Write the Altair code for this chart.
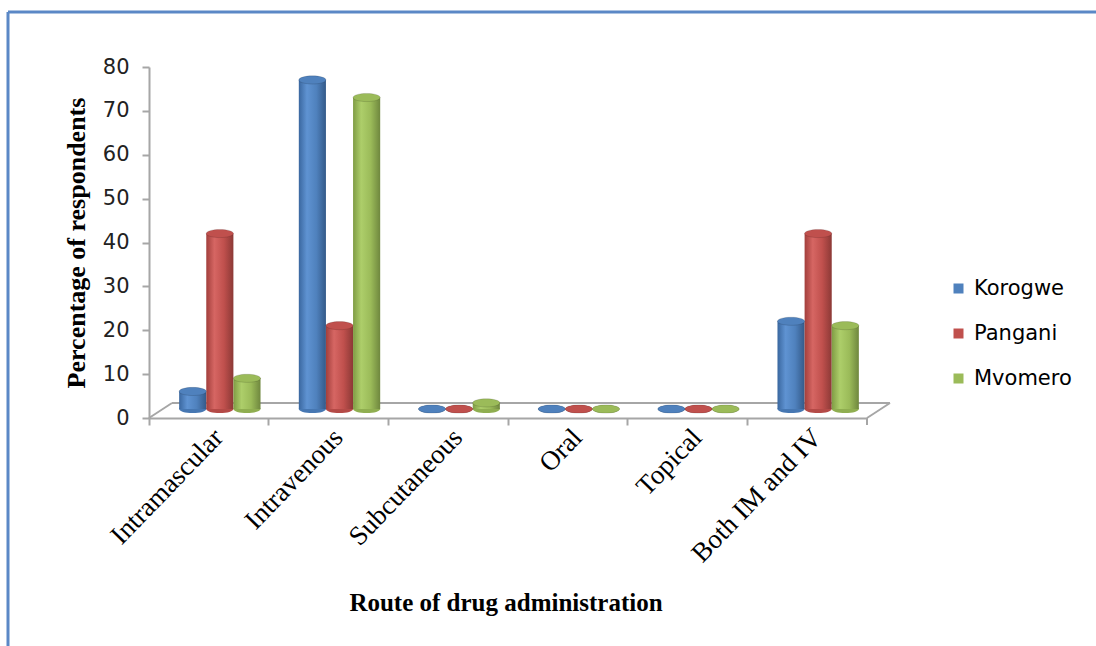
import altair as alt
import pandas as pd

# Survey results: share of respondents by route of drug administration
routes = ["Intramascular", "Intravenous", "Subcutaneous", "Oral", "Topical", "Both IM and IV"]
districts = ["Korogwe", "Pangani", "Mvomero"]
korogwe = [4, 75, 0, 0, 0, 20]
pangani = [40, 19, 0, 0, 0, 40]
mvomero = [7, 71, 1.4, 0, 0, 19]

base_colors = ["#4F81BD", "#C0504D", "#9BBB59"]
bottom_colors = ["#4677B2", "#B44A47", "#8FAE50"]
shades = {
    "Korogwe": ["#3A679F", "#5F93D2", "#4F81BD", "#345A89"],
    "Pangani": ["#A23F3C", "#D66663", "#C0504D", "#8C3936"],
    "Mvomero": ["#7F9C44", "#ADCE6A", "#9BBB59", "#6F873E"],
}

rows = []
for name, vals in zip(districts, [korogwe, pangani, mvomero]):
    for route, v in zip(routes, vals):
        rows.append({"route": route, "district": name, "value": v})
df = pd.DataFrame(rows)

W, H = 718, 351
DX, DY = 23, -15          # floor depth
BX, BY = 11, -9           # bars sit half-way into the floor

ellipse = "M -1 0 A 1 0.3 0 1 1 1 0 A 1 0.3 0 1 1 -1 0 Z"
axis_gray = "#A6A6A6"

# ---- frame: axes on the front edge of the floor ----
frame = alt.Chart(df).mark_bar(opacity=0).encode(
    x=alt.X("route:N", sort=routes,
            scale=alt.Scale(domain=routes, paddingInner=0, paddingOuter=0),
            axis=alt.Axis(title=None, bandPosition=0, labelAngle=-46, labelAlign="right",
                          labelBaseline="middle", labelFont="Liberation Serif", labelFontSize=27,
                          labelColor="#000000", labelOffset=10, labelPadding=8,
                          domainColor=axis_gray, domainWidth=2, tickColor=axis_gray,
                          tickWidth=2, tickSize=7, labelBound=False, labelOverlap=False)),
    y=alt.Y("value:Q", scale=alt.Scale(domain=[0, 80], nice=False),
            axis=alt.Axis(title=None, values=list(range(0, 81, 10)), grid=False,
                          labelFont="DejaVu Sans", labelFontSize=21, labelColor="#222222",
                          labelPadding=13, domainColor=axis_gray, domainWidth=2,
                          tickColor=axis_gray, tickWidth=2, tickSize=7)),
)

one = pd.DataFrame({"k": [0]})
floor_lines = [
    dict(x=DX, x2=W + DX, y=H + DY, y2=H + DY),
    dict(x=0, x2=DX, y=H, y2=H + DY),
    dict(x=W, x2=W + DX, y=H, y2=H + DY),
]
floor = [
    alt.Chart(one).mark_rule(color=axis_gray, strokeWidth=2).encode(
        x=alt.value(d["x"]), x2=alt.value(d["x2"]), y=alt.value(d["y"]), y2=alt.value(d["y2"]))
    for d in floor_lines
]
end_tick = alt.Chart(one).mark_rule(color=axis_gray, strokeWidth=2).encode(
    x=alt.value(W), y=alt.value(H), y2=alt.value(H + 7))

# ---- cylinders ----
xs = alt.X("route:N", sort=routes,
           scale=alt.Scale(domain=routes, range=[BX, W + BX], paddingInner=0.32, paddingOuter=0.16),
           axis=None)
xo = alt.XOffset("district:N", scale=alt.Scale(domain=districts, paddingInner=0, paddingOuter=0))
ys = alt.Y("value:Q", scale=alt.Scale(domain=[0, 80], range=[H + BY, BY], nice=False), axis=None)
y0 = alt.Y("zero:Q", scale=alt.Scale(domain=[0, 80], range=[H + BY, BY], nice=False), axis=None)

bottoms = alt.Chart(df).transform_calculate(zero="0").mark_point(
    shape=ellipse, size=740, filled=True, opacity=1).encode(
    x=xs, xOffset=xo, y=y0,
    fill=alt.Fill("district:N", scale=alt.Scale(domain=districts, range=bottom_colors), legend=None),
)

bars = []
for name in districts:
    c = shades[name]
    grad = alt.Gradient(gradient="linear", x1=0, x2=1, y1=0, y2=0, stops=[
        alt.GradientStop(color=c[0], offset=0),
        alt.GradientStop(color=c[1], offset=0.3),
        alt.GradientStop(color=c[2], offset=0.65),
        alt.GradientStop(color=c[3], offset=1),
    ])
    bars.append(
        alt.Chart(df).transform_filter(alt.datum.district == name).mark_bar(color=grad).encode(
            x=xs, xOffset=xo, y=ys, y2=alt.datum(0))
    )

tops = alt.Chart(df).mark_point(shape=ellipse, size=740, filled=True, opacity=1,
                                stroke="#00000030", strokeWidth=0.7).encode(
    x=xs, xOffset=xo, y=ys,
    color=alt.Color("district:N", scale=alt.Scale(domain=districts, range=base_colors),
                    legend=alt.Legend(title=None, orient="none", legendX=799, legendY=211,
                                      symbolType="square", symbolSize=100, symbolStrokeWidth=0,
                                      labelFont="DejaVu Sans", labelFontSize=21,
                                      labelColor="#000000", rowPadding=23, labelOffset=5,
                                      padding=0)),
)

cyl = alt.layer(bottoms, *bars, tops)

# ---- titles and border ----
xtitle = alt.Chart(pd.DataFrame({"t": ["Route of drug administration"]})).mark_text(
    font="Liberation Serif", fontSize=25, fontWeight="bold", color="#000000").encode(
    text="t:N", x=alt.value(357), y=alt.value(536))
ytitle = alt.Chart(pd.DataFrame({"t": ["Percentage of respondents"]})).mark_text(
    font="Liberation Serif", fontSize=26, fontWeight="bold", color="#000000", angle=270).encode(
    text="t:N", x=alt.value(-72), y=alt.value(176))

border_col = "#5B88C6"
border = [
    alt.Chart(one).mark_rule(color=border_col, strokeWidth=3).encode(
        x=alt.value(-141), x2=alt.value(1000), y=alt.value(-55)),
    alt.Chart(one).mark_rule(color=border_col, strokeWidth=3).encode(
        x=alt.value(-141), y=alt.value(-55), y2=alt.value(600)),
]

chart = alt.layer(
    alt.layer(frame, *floor, end_tick, xtitle, ytitle, *border),
    cyl,
).resolve_scale(x="independent", y="independent", color="independent").properties(
    width=W, height=H,
    background="white",
    autosize=alt.AutoSizeParams(type="none"),
    padding={"left": 149, "top": 67, "right": 229, "bottom": 228},
).configure_view(strokeWidth=0)

chart.save("out.html", embed_options={"renderer": "svg", "actions": False})
